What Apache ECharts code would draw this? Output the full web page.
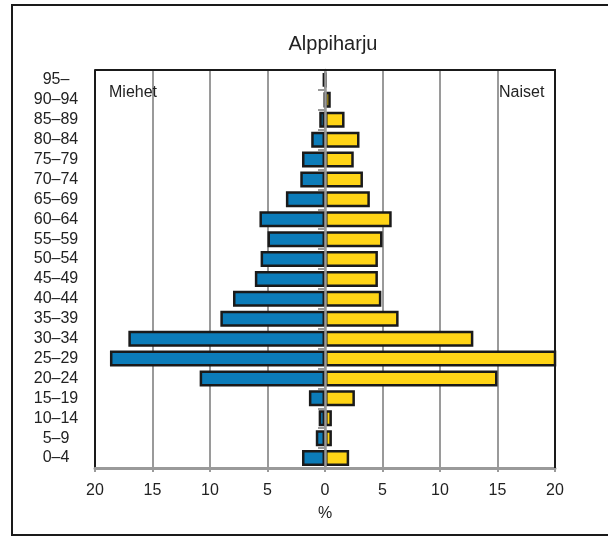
<!DOCTYPE html>
<html>
<head>
<meta charset="utf-8">
<script src="https://cdn.jsdelivr.net/npm/echarts@6/dist/echarts.min.js"></script>
<style>
html,body{margin:0;padding:0;background:#fff;}
#chart{width:608px;height:536px;}
</style>
</head>
<body>
<div id="chart"></div>
<script>
// Age groups, bottom to top
var categories = ['0–4','5–9','10–14','15–19','20–24','25–29','30–34','35–39','40–44','45–49','50–54','55–59','60–64','65–69','70–74','75–79','80–84','85–89','90–94','95–'];
// Men (%), same order
var men = [2.0, 0.8, 0.55, 1.4, 10.9, 18.7, 17.1, 9.1, 8.0, 6.1, 5.6, 5.0, 5.7, 3.4, 2.15, 2.0, 1.2, 0.5, 0.05, 0.2];
// Women (%), same order
var women = [2.1, 0.6, 0.6, 2.6, 15.0, 20.6, 12.9, 6.4, 4.9, 4.6, 4.6, 5.0, 5.8, 3.9, 3.3, 2.5, 3.0, 1.7, 0.5, 0.1];
var xTicks = [-20, 20, 5];
var titleText = 'Alppiharju';
var leftLabel = 'Miehet';
var rightLabel = 'Naiset';
var axisName = '%';

var FONT = '"Liberation Sans", Arial, Helvetica, sans-serif';
var G = {left: 95, right: 53, top: 70, bottom: 68};
var W = 608, H = 536;
var gx0 = G.left, gx1 = W - G.right, gy0 = G.top, gy1 = H - G.bottom;

var chart = echarts.init(document.getElementById('chart'), null, {renderer: 'canvas'});
var option = {
  animation: false,
  backgroundColor: '#fff',
  textStyle: {fontFamily: FONT},
  grid: {left: G.left, right: G.right, top: G.top, bottom: G.bottom, containLabel: false},
  xAxis: {
    type: 'value', min: xTicks[0], max: xTicks[1], interval: xTicks[2],
    axisLine: {show: true, onZero: false, lineStyle: {color: '#9a9a9a', width: 3}},
    axisTick: {show: true, length: 4, lineStyle: {color: '#9a9a9a', width: 2}},
    splitLine: {show: true, lineStyle: {color: '#9a9a9a', width: 2}},
    axisLabel: {fontSize: 16, color: '#222', margin: 15, fontFamily: FONT,
      formatter: function (v) { return String(Math.abs(v)); }},
    name: axisName, nameLocation: 'middle', nameGap: 38,
    nameTextStyle: {fontSize: 16, color: '#222', fontFamily: FONT}
  },
  yAxis: [{
    type: 'category', data: categories, position: 'left',
    axisLine: {show: true, onZero: false, lineStyle: {color: '#1a1a1a', width: 2}},
    axisTick: {show: false},
    splitLine: {show: false},
    axisLabel: {fontSize: 16, lineHeight: 16, interval: 0, color: '#222', align: 'center', margin: 39, fontFamily: FONT}
  }, {
    type: 'category', data: categories, position: 'left', z: 10,
    axisLine: {show: true, onZero: true, lineStyle: {color: '#9a9a9a', width: 2.5}},
    axisTick: {show: true, length: 7, interval: 0, lineStyle: {color: '#9a9a9a', width: 2}},
    axisLabel: {show: false},
    splitLine: {show: false}
  }],
  series: [{
    name: leftLabel, type: 'bar', yAxisIndex: 0, barWidth: 16, barGap: '-100%',
    data: men.map(function (v) { return -v; }),
    itemStyle: {color: '#0c7cb9', borderColor: '#1a1a1a', borderWidth: 2.5},
    clip: true
  }, {
    name: rightLabel, type: 'bar', yAxisIndex: 0, barWidth: 16, barGap: '-100%',
    data: women,
    itemStyle: {color: '#ffd416', borderColor: '#1a1a1a', borderWidth: 2.5},
    clip: true
  }],
  graphic: [
    {type: 'rect', shape: {x: 12, y: 5, width: 700, height: 530}, style: {fill: null, stroke: '#1a1a1a', lineWidth: 2}, z: 100, silent: true},
    {type: 'polyline', shape: {points: [[gx0, gy0], [gx1, gy0], [gx1, gy1]]}, style: {fill: null, stroke: '#1a1a1a', lineWidth: 2}, z: 100, silent: true},
    {type: 'text', x: 333, y: 44, style: {text: titleText, fill: '#222', font: '20px ' + FONT, textAlign: 'center', textVerticalAlign: 'middle'}, z: 100},
    {type: 'text', x: 109, y: 93, style: {text: leftLabel, fill: '#222', font: '16px ' + FONT, textAlign: 'left', textVerticalAlign: 'middle'}, z: 100},
    {type: 'text', x: 499, y: 93, style: {text: rightLabel, fill: '#222', font: '16px ' + FONT, textAlign: 'left', textVerticalAlign: 'middle'}, z: 100}
  ]
};
chart.setOption(option);
</script>
</body>
</html>
